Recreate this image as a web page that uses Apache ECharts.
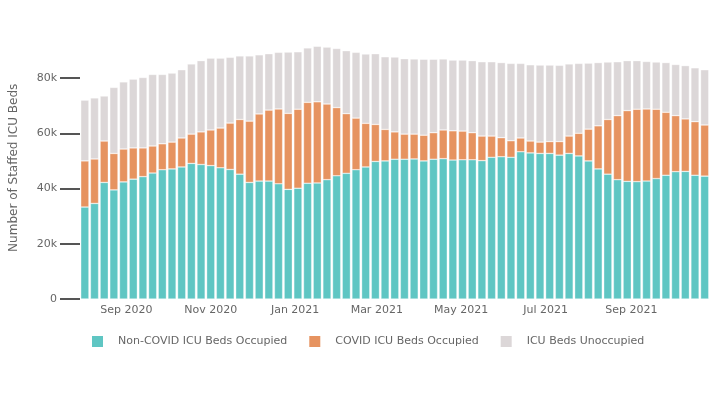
<!DOCTYPE html>
<html>
<head>
<meta charset="utf-8">
<script src="https://cdn.jsdelivr.net/npm/echarts@6/dist/echarts.min.js"></script>
<style>html,body{margin:0;padding:0;background:#fff}#chart{width:720px;height:400px}</style>
</head>
<body>
<div id="chart"></div>
<script>
var weeks = ['2020-08-02','2020-08-09','2020-08-16','2020-08-23','2020-08-30','2020-09-06','2020-09-13','2020-09-20','2020-09-27','2020-10-04','2020-10-11','2020-10-18','2020-10-25','2020-11-01','2020-11-08','2020-11-15','2020-11-22','2020-11-29','2020-12-06','2020-12-13','2020-12-20','2020-12-27','2021-01-03','2021-01-10','2021-01-17','2021-01-24','2021-01-31','2021-02-07','2021-02-14','2021-02-21','2021-02-28','2021-03-07','2021-03-14','2021-03-21','2021-03-28','2021-04-04','2021-04-11','2021-04-18','2021-04-25','2021-05-02','2021-05-09','2021-05-16','2021-05-23','2021-05-30','2021-06-06','2021-06-13','2021-06-20','2021-06-27','2021-07-04','2021-07-11','2021-07-18','2021-07-25','2021-08-01','2021-08-08','2021-08-15','2021-08-22','2021-08-29','2021-09-05','2021-09-12','2021-09-19','2021-09-26','2021-10-03','2021-10-10','2021-10-17','2021-10-24'];

var nonCovid = [33300,34600,42200,39500,42400,43400,44300,45600,46800,47100,47800,49100,48700,48300,47500,46900,45200,42200,42700,42700,41700,39700,40100,41900,42000,43200,44600,45500,46800,47800,49800,50000,50600,50600,50700,50000,50600,50800,50300,50400,50400,50100,51300,51500,51300,53300,52900,52700,52700,52100,52700,51800,50000,47100,45200,43200,42600,42500,42700,43600,44800,46100,46200,44800,44500];

var covid = [16700,16100,15000,13200,11900,11300,10400,9800,9400,9700,10500,10600,11800,12900,14400,16800,19800,22200,24300,25700,27100,27500,28600,29300,29400,27400,24700,21600,18700,15800,13400,11400,9900,9100,9000,9300,9600,10400,10600,10400,9800,8900,7700,6900,6000,5000,4300,4100,4300,4900,6300,8200,11500,15600,19800,23200,25600,26200,26100,25100,22800,20300,19000,19400,18500];

var unoccupied = [22000,22100,16300,23900,24300,24900,25500,25900,25100,25000,24700,25400,25800,26000,25300,23800,23000,23600,21400,20400,20500,22200,20800,19700,20100,20600,21400,22800,23800,25100,25600,26300,27100,27300,27200,27500,26600,25700,25600,25700,26100,26900,26900,27200,28000,27000,27600,27900,27700,27600,26100,25300,23900,22900,20800,19500,18100,17600,17200,17100,18000,18500,19300,19500,20000];

var xTickDates = ['2020-09-01','2020-11-01','2021-01-01','2021-03-01','2021-05-01','2021-07-01','2021-09-01'];
var xTickLabels = ['Sep 2020','Nov 2020','Jan 2021','Mar 2021','May 2021','Jul 2021','Sep 2021'];
var yTicks = [0,20000,40000,60000,80000];

function ts(s){ var p = s.split('-'); return new Date(+p[0], +p[1]-1, +p[2]).getTime(); }
function pairs(vals){ return vals.map(function(v,i){ return [ts(weeks[i]), v]; }); }
var tickTs = xTickDates.map(ts);
var xMin = new Date(2020,6,29,12).getTime();
var xMax = new Date(2021,9,27,12).getTime();

// layout: plot area spans x 78..709.5; ECharts widens a bar time axis by half a bar on each side
var plotL = 78, plotR = 709.5, barW = 8.2;
var msPerPx = (xMax - xMin) / (plotR - plotL);
var pad = barW / 2;

var font = 'DejaVu Sans';
var chart = echarts.init(document.getElementById('chart'));
var barStyle = function(c){ return { color: c, borderColor: 'rgba(255,255,255,0.55)', borderWidth: 0.6 }; };
chart.setOption({
  animation: false,
  grid: { left: plotL - pad, right: 720 - plotR - pad, top: 36.6, bottom: 101 },
  legend: {
    left: 92, top: 336, padding: 0,
    itemWidth: 11, itemHeight: 11, itemGap: 22, icon: 'rect',
    itemStyle: { borderWidth: 0 },
    textStyle: { fontFamily: font, fontSize: 11, color: '#666', padding: [0,0,0,10] },
    data: ['Non-COVID ICU Beds Occupied','COVID ICU Beds Occupied','ICU Beds Unoccupied']
  },
  xAxis: [{
    type: 'time', min: xMin, max: xMax,
    axisLine: { show: false }, axisTick: { show: false },
    splitLine: { show: false }, axisLabel: { show: false }
  }, {
    type: 'value', min: xMin - pad * msPerPx, max: xMax + pad * msPerPx, position: 'bottom',
    axisLine: { show: false }, axisTick: { show: false },
    splitLine: { show: false },
    axisLabel: {
      customValues: tickTs,
      margin: 6,
      fontFamily: font, fontSize: 11, color: '#666',
      formatter: function(v){ var i = tickTs.indexOf(v); return i >= 0 ? xTickLabels[i] : ''; }
    }
  }],
  yAxis: {
    type: 'value', min: 0, max: 95000, offset: -pad,
    name: 'Number of Staffed ICU Beds', nameLocation: 'middle', nameGap: 60,
    nameTextStyle: { fontFamily: font, fontSize: 12, color: '#666' },
    axisLine: { show: false },
    splitLine: { show: false },
    axisTick: { show: true, length: 20, customValues: yTicks, lineStyle: { color: '#555', width: 2 } },
    axisLabel: {
      customValues: yTicks, margin: 23,
      fontFamily: font, fontSize: 11, color: '#666',
      formatter: function(v){ return v === 0 ? '0' : (v/1000) + 'k'; }
    }
  },
  series: [
    { name: 'Non-COVID ICU Beds Occupied', type: 'bar', stack: 'icu', xAxisIndex: 0, barWidth: barW, itemStyle: barStyle('#5fc6c3'), data: pairs(nonCovid) },
    { name: 'COVID ICU Beds Occupied', type: 'bar', stack: 'icu', xAxisIndex: 0, barWidth: barW, itemStyle: barStyle('#e69360'), data: pairs(covid) },
    { name: 'ICU Beds Unoccupied', type: 'bar', stack: 'icu', xAxisIndex: 0, barWidth: barW, itemStyle: barStyle('#dcd7d8'), data: pairs(unoccupied) }
  ]
});
</script>
</body>
</html>
